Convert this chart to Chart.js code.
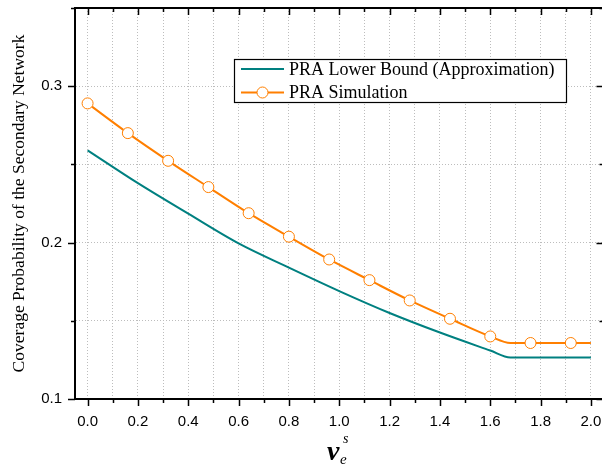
<!DOCTYPE html>
<html>
<head>
<meta charset="utf-8">
<script src="https://cdn.jsdelivr.net/npm/chart.js@4.4.1/dist/chart.umd.min.js"></script>
<style>
  html, body { margin: 0; padding: 0; background: #fff; overflow: hidden; }
  #wrap { width: 610px; height: 464px; }
</style>
</head>
<body>
<div id="wrap"><canvas id="myChart" width="610" height="464"></canvas></div>
<script>
        // Data
        const boundX = [0, 0.2, 0.4, 0.6, 0.8, 1.0, 1.2, 1.4, 1.6, 1.68, 2.0];
        const boundY = [0.259, 0.238, 0.2185, 0.1995, 0.184, 0.169, 0.155, 0.1425, 0.131, 0.1265, 0.1265];
        const simX = [0, 0.16, 0.32, 0.48, 0.64, 0.80, 0.96, 1.12, 1.28, 1.44, 1.60, 1.68, 1.76, 1.92, 2.0];
        const simY = [0.289, 0.270, 0.2523, 0.2355, 0.2188, 0.2038, 0.1892, 0.176, 0.163, 0.1513, 0.140, 0.1358, 0.1358, 0.1358, 0.1358];
        const simMarker = [1, 1, 1, 1, 1, 1, 1, 1, 1, 1, 1, 0, 1, 1, 0];
        const seriesNames = ['PRA Lower Bound (Approximation)', 'PRA Simulation'];

        // Ticks
        const xTicks = [0, 0.1, 0.2, 0.3, 0.4, 0.5, 0.6, 0.7, 0.8, 0.9, 1.0, 1.1, 1.2, 1.3, 1.4, 1.5, 1.6, 1.7, 1.8, 1.9, 2.0];
        const xLabels = ['0.0', '', '0.2', '', '0.4', '', '0.6', '', '0.8', '', '1.0', '', '1.2', '', '1.4', '', '1.6', '', '1.8', '', '2.0'];
        const yTicks = [0.1, 0.15, 0.2, 0.25, 0.3, 0.35];
        const yLabels = ['0.1', '', '0.2', '', '0.3', ''];

        const teal = '#008080';
        const orange = '#ff7f00';
        const serif = '"Liberation Serif", "Times New Roman", serif';
        const sans = '"Liberation Sans", Arial, sans-serif';

        const toPts = (xs, ys) => xs.map((x, i) => ({ x: x, y: ys[i] }));

        // Frame, minor/major ticks, legend and axis titles
        const decorPlugin = {
            id: 'decor',
            afterDraw(chart) {
                const ctx = chart.ctx;
                const a = chart.chartArea;
                const xs = chart.scales.x, ys = chart.scales.y;
                ctx.save();
                ctx.strokeStyle = '#000';
                ctx.lineWidth = 2;
                ctx.beginPath();
                ctx.moveTo(a.left - 1, a.top); ctx.lineTo(a.right, a.top);
                ctx.moveTo(a.right, a.top); ctx.lineTo(a.right, a.bottom);
                ctx.stroke();

                ctx.lineWidth = 1.5;
                ctx.beginPath();
                xTicks.forEach((v, i) => {
                    const px = Math.round(xs.getPixelForValue(v)) + 0.5;
                    const len = xLabels[i] ? 7 : 4;
                    ctx.moveTo(px, a.bottom); ctx.lineTo(px, a.bottom + len);
                    ctx.moveTo(px, a.top); ctx.lineTo(px, a.top + len);
                });
                yTicks.forEach((v, i) => {
                    const py = Math.round(ys.getPixelForValue(v)) + 0.5;
                    const len = yLabels[i] ? 7 : 4;
                    ctx.moveTo(a.left, py); ctx.lineTo(a.left - len, py);
                    ctx.moveTo(a.right, py); ctx.lineTo(a.right - len, py);
                });
                ctx.stroke();

                // legend
                const lx = 234, ly = 59, lw = 332, lh = 43;
                ctx.fillStyle = '#fff';
                ctx.fillRect(lx, ly, lw, lh);
                ctx.lineWidth = 1.2;
                ctx.strokeStyle = '#000';
                ctx.strokeRect(lx + 0.5, ly + 0.5, lw, lh);
                const rows = [69, 92.5];
                ctx.lineWidth = 2;
                ctx.strokeStyle = teal;
                ctx.beginPath(); ctx.moveTo(241, rows[0]); ctx.lineTo(284, rows[0]); ctx.stroke();
                ctx.strokeStyle = orange;
                ctx.beginPath(); ctx.moveTo(241, rows[1]); ctx.lineTo(284, rows[1]); ctx.stroke();
                ctx.fillStyle = '#fff';
                ctx.lineWidth = 1;
                ctx.beginPath(); ctx.arc(262.5, rows[1], 5.5, 0, Math.PI * 2); ctx.fill(); ctx.stroke();
                ctx.fillStyle = '#000';
                ctx.font = '18px ' + serif;
                ctx.textBaseline = 'middle';
                ctx.textAlign = 'left';
                seriesNames.forEach((n, i) => ctx.fillText(n, 289, rows[i] + 1));

                // y title
                ctx.save();
                ctx.translate(19, (a.top + a.bottom) / 2);
                ctx.rotate(-Math.PI / 2);
                ctx.textAlign = 'center';
                ctx.textBaseline = 'middle';
                ctx.font = '17.5px ' + serif;
                ctx.fillText('Coverage Probability of the Secondary Network', 0, 0);
                ctx.restore();

                // x title: nu_e^s
                ctx.textBaseline = 'alphabetic';
                ctx.textAlign = 'left';
                ctx.font = 'italic bold 28px ' + serif;
                ctx.fillText('\u03bd', 327, 460);
                ctx.font = 'italic 15px ' + serif;
                ctx.fillText('e', 340, 464);
                ctx.font = 'italic 14px ' + serif;
                ctx.fillText('s', 343, 443);
                ctx.restore();
            }
        };

        const data = {
            datasets: [{
                label: seriesNames[0],
                data: toPts(boundX, boundY),
                borderColor: teal,
                borderWidth: 2,
                pointRadius: 0,
                cubicInterpolationMode: 'monotone'
            }, {
                label: seriesNames[1],
                data: toPts(simX, simY),
                borderColor: orange,
                borderWidth: 2,
                pointRadius: simMarker.map(m => m ? 5.5 : 0),
                pointBorderWidth: 1,
                pointBackgroundColor: '#fff',
                pointBorderColor: orange,
                cubicInterpolationMode: 'monotone'
            }]
        };

        const config = {
            type: 'line',
            data: data,
            plugins: [decorPlugin],
            options: {
                responsive: false,
                animation: false,
                layout: { padding: { top: 8, right: 6, left: 0, bottom: 0 } },
                plugins: { legend: { display: false }, tooltip: { enabled: false } },
                scales: {
                    x: {
                        type: 'linear',
                        min: -0.05,
                        max: 2.05,
                        afterBuildTicks: (s) => { s.ticks = xTicks.map(v => ({ value: v })); },
                        afterFit: (s) => { s.height = 65; s.paddingLeft = 0; s.paddingRight = 0; },
                        ticks: {
                            autoSkip: false,
                            maxRotation: 0,
                            padding: 14,
                            color: '#000',
                            font: { family: sans, size: 15 },
                            callback: (v, i) => xLabels[i]
                        },
                        grid: { color: '#bdbdbd', lineWidth: 1, drawTicks: false },
                        border: { color: '#000', width: 2, dash: [1, 2] }
                    },
                    y: {
                        type: 'linear',
                        min: 0.1,
                        max: 0.35,
                        afterBuildTicks: (s) => { s.ticks = yTicks.map(v => ({ value: v })); },
                        afterFit: (s) => { s.width = 75; s.paddingTop = 0; s.paddingBottom = 0; },
                        ticks: {
                            autoSkip: false,
                            padding: 13,
                            color: '#000',
                            font: { family: sans, size: 15 },
                            callback: (v, i) => yLabels[i]
                        },
                        grid: { color: '#bdbdbd', lineWidth: 1, drawTicks: false },
                        border: { color: '#000', width: 2, dash: [1, 2] }
                    }
                }
            }
        };

        var myChart = new Chart(document.getElementById('myChart'), config);
</script>
</body>
</html>
